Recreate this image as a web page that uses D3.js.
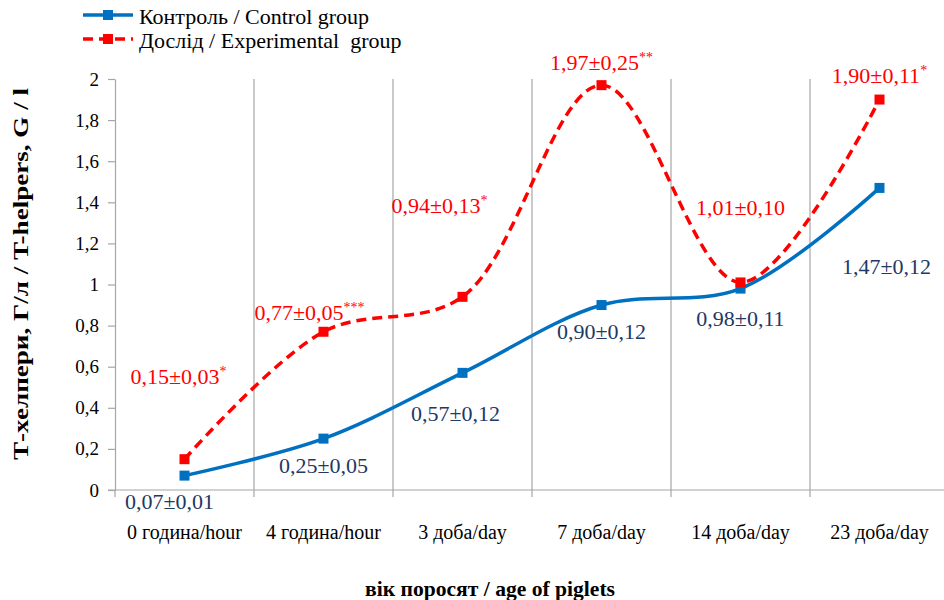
<!DOCTYPE html>
<html>
<head>
<meta charset="utf-8">
<script src="https://cdn.jsdelivr.net/npm/d3@7"></script>
<style>
  body { margin: 0; background: #fff; }
  svg text { font-family: "Liberation Serif", "Times New Roman", serif; }
</style>
</head>
<body>
<svg id="chart" width="944" height="600"></svg>
<script>
// categories and values
var ages = ["0 година/hour", "4 година/hour", "3 доба/day", "7 доба/day", "14 доба/day", "23 доба/day"];
var control = [0.07, 0.25, 0.57, 0.90, 0.98, 1.47];
var experimental = [0.15, 0.77, 0.94, 1.97, 1.01, 1.90];
var controlLabels = ["0,07±0,01", "0,25±0,05", "0,57±0,12", "0,90±0,12", "0,98±0,11", "1,47±0,12"];
var expLabels = ["0,15±0,03", "0,77±0,05", "0,94±0,13", "1,97±0,25", "1,01±0,10", "1,90±0,11"];
var expStars = ["*", "***", "*", "**", "", "*"];
var yTicks = [0, 0.2, 0.4, 0.6, 0.8, 1, 1.2, 1.4, 1.6, 1.8, 2];

(function() {

    var svg = d3.select("#chart");
    var mLeft = 115, mRight = 949, mTop = 79, mBottom = 490;
    var grey = "#a6a6a6";

    var x = d3.scaleBand().domain(ages).range([mLeft, mRight]);
    var y = d3.scaleLinear().domain([0, 2]).range([mBottom, mTop]);
    var cx = function(i) { return x(ages[i]) + x.bandwidth() / 2; };
    var fmt = function(d) { return String(d).replace(".", ","); };

    // vertical grid lines between categories
    var bounds = ages.map(function(a) { return x(a); }).slice(1);
    svg.append("g").selectAll("line").data(bounds).enter().append("line")
        .attr("x1", function(d) { return d; }).attr("x2", function(d) { return d; })
        .attr("y1", mTop).attr("y2", mBottom + 7)
        .attr("stroke", grey).attr("stroke-width", 1.2);

    // y axis
    var yAxis = svg.append("g").attr("transform", "translate(" + mLeft + ",0)")
        .call(d3.axisLeft(y).tickValues(yTicks).tickFormat(fmt).tickSize(7).tickPadding(9).tickSizeOuter(0));
    yAxis.attr("font-family", null);
    yAxis.select(".domain").attr("stroke", grey).attr("stroke-width", 1.2);
    yAxis.selectAll(".tick line").attr("stroke", grey).attr("stroke-width", 1.2);
    yAxis.selectAll("text").attr("font-size", 19).attr("fill", "#000");

    // x axis
    svg.append("line").attr("x1", mLeft - 7).attr("x2", mRight).attr("y1", mBottom).attr("y2", mBottom)
        .attr("stroke", grey).attr("stroke-width", 1.2);
    svg.append("line").attr("x1", mLeft).attr("x2", mLeft).attr("y1", mBottom).attr("y2", mBottom + 7)
        .attr("stroke", grey).attr("stroke-width", 1.2);
    svg.append("g").selectAll("text").data(ages).enter().append("text")
        .attr("x", function(d, i) { return cx(i); }).attr("y", 539)
        .attr("text-anchor", "middle").attr("font-size", 20)
        .text(function(d) { return d; });

    // axis titles
    svg.append("text").attr("x", 490).attr("y", 596).attr("text-anchor", "middle")
        .attr("font-size", 22).attr("font-weight", "bold")
        .attr("textLength", 250).attr("lengthAdjust", "spacingAndGlyphs")
        .text("вік поросят / age of piglets");
    svg.append("text").attr("transform", "translate(28,274) rotate(-90)").attr("text-anchor", "middle")
        .attr("font-size", 21).attr("font-weight", "bold")
        .attr("textLength", 372).attr("lengthAdjust", "spacingAndGlyphs")
        .text("Т-хелпери, Г/л / T-helpers, G / l");

    // lines
    var line = d3.line()
        .x(function(d, i) { return cx(i); })
        .y(function(d) { return y(d); })
        .curve(d3.curveCatmullRom.alpha(0.5));

    svg.append("path").datum(control).attr("d", line)
        .attr("fill", "none").attr("stroke", "#0070c0").attr("stroke-width", 3.5);
    svg.append("path").datum(experimental).attr("d", line)
        .attr("fill", "none").attr("stroke", "#ff0000").attr("stroke-width", 3.5)
        .attr("stroke-dasharray", "10,6");

    svg.append("g").selectAll("rect").data(control).enter().append("rect")
        .attr("x", function(d, i) { return cx(i) - 5; }).attr("y", function(d) { return y(d) - 5; })
        .attr("width", 10).attr("height", 10).attr("fill", "#0070c0");
    svg.append("g").selectAll("rect").data(experimental).enter().append("rect")
        .attr("x", function(d, i) { return cx(i) - 5; }).attr("y", function(d) { return y(d) - 5; })
        .attr("width", 10).attr("height", 10).attr("fill", "#ff0000");

    // data labels, offset from their point
    var ctrlOff = [[-15, 33], [0, 34], [-7, 48], [0, 34], [0, 37], [7, 86]];
    var expOff = [[-6, -75], [-14, -12], [-23, -84], [0, -15], [0, -67], [0, -17]];

    svg.append("g").selectAll("text").data(control).enter().append("text")
        .attr("x", function(d, i) { return cx(i) + ctrlOff[i][0]; })
        .attr("y", function(d, i) { return y(d) + ctrlOff[i][1]; })
        .attr("text-anchor", "middle").attr("font-size", 22).attr("fill", "#1f3864")
        .text(function(d, i) { return controlLabels[i]; });

    var et = svg.append("g").selectAll("text").data(experimental).enter().append("text")
        .attr("x", function(d, i) { return cx(i) + expOff[i][0]; })
        .attr("y", function(d, i) { return y(d) + expOff[i][1]; })
        .attr("text-anchor", "middle").attr("font-size", 22).attr("fill", "#ff0000");
    et.append("tspan").text(function(d, i) { return expLabels[i]; });
    et.append("tspan").attr("font-size", 14).attr("dy", -8)
        .text(function(d, i) { return expStars[i]; });

    // legend
    var legend = [
        { name: "Контроль / Control group", color: "#0070c0", dash: null },
        { name: "Дослід / Experimental  group", color: "#ff0000", dash: "10,6" }
    ];
    var lg = svg.append("g").selectAll("g").data(legend).enter().append("g")
        .attr("transform", function(d, i) { return "translate(83," + (15 + i * 24) + ")"; });
    lg.append("line").attr("x1", 0).attr("x2", 50).attr("y1", 0).attr("y2", 0)
        .attr("stroke", function(d) { return d.color; }).attr("stroke-width", 3.5)
        .attr("stroke-dasharray", function(d) { return d.dash; });
    lg.append("rect").attr("x", 20).attr("y", -5).attr("width", 10).attr("height", 10)
        .attr("fill", function(d) { return d.color; });
    lg.append("text").attr("x", 56).attr("y", 9).attr("font-size", 22)
        .style("white-space", "pre").text(function(d) { return d.name; });

})();
</script>
</body>
</html>
